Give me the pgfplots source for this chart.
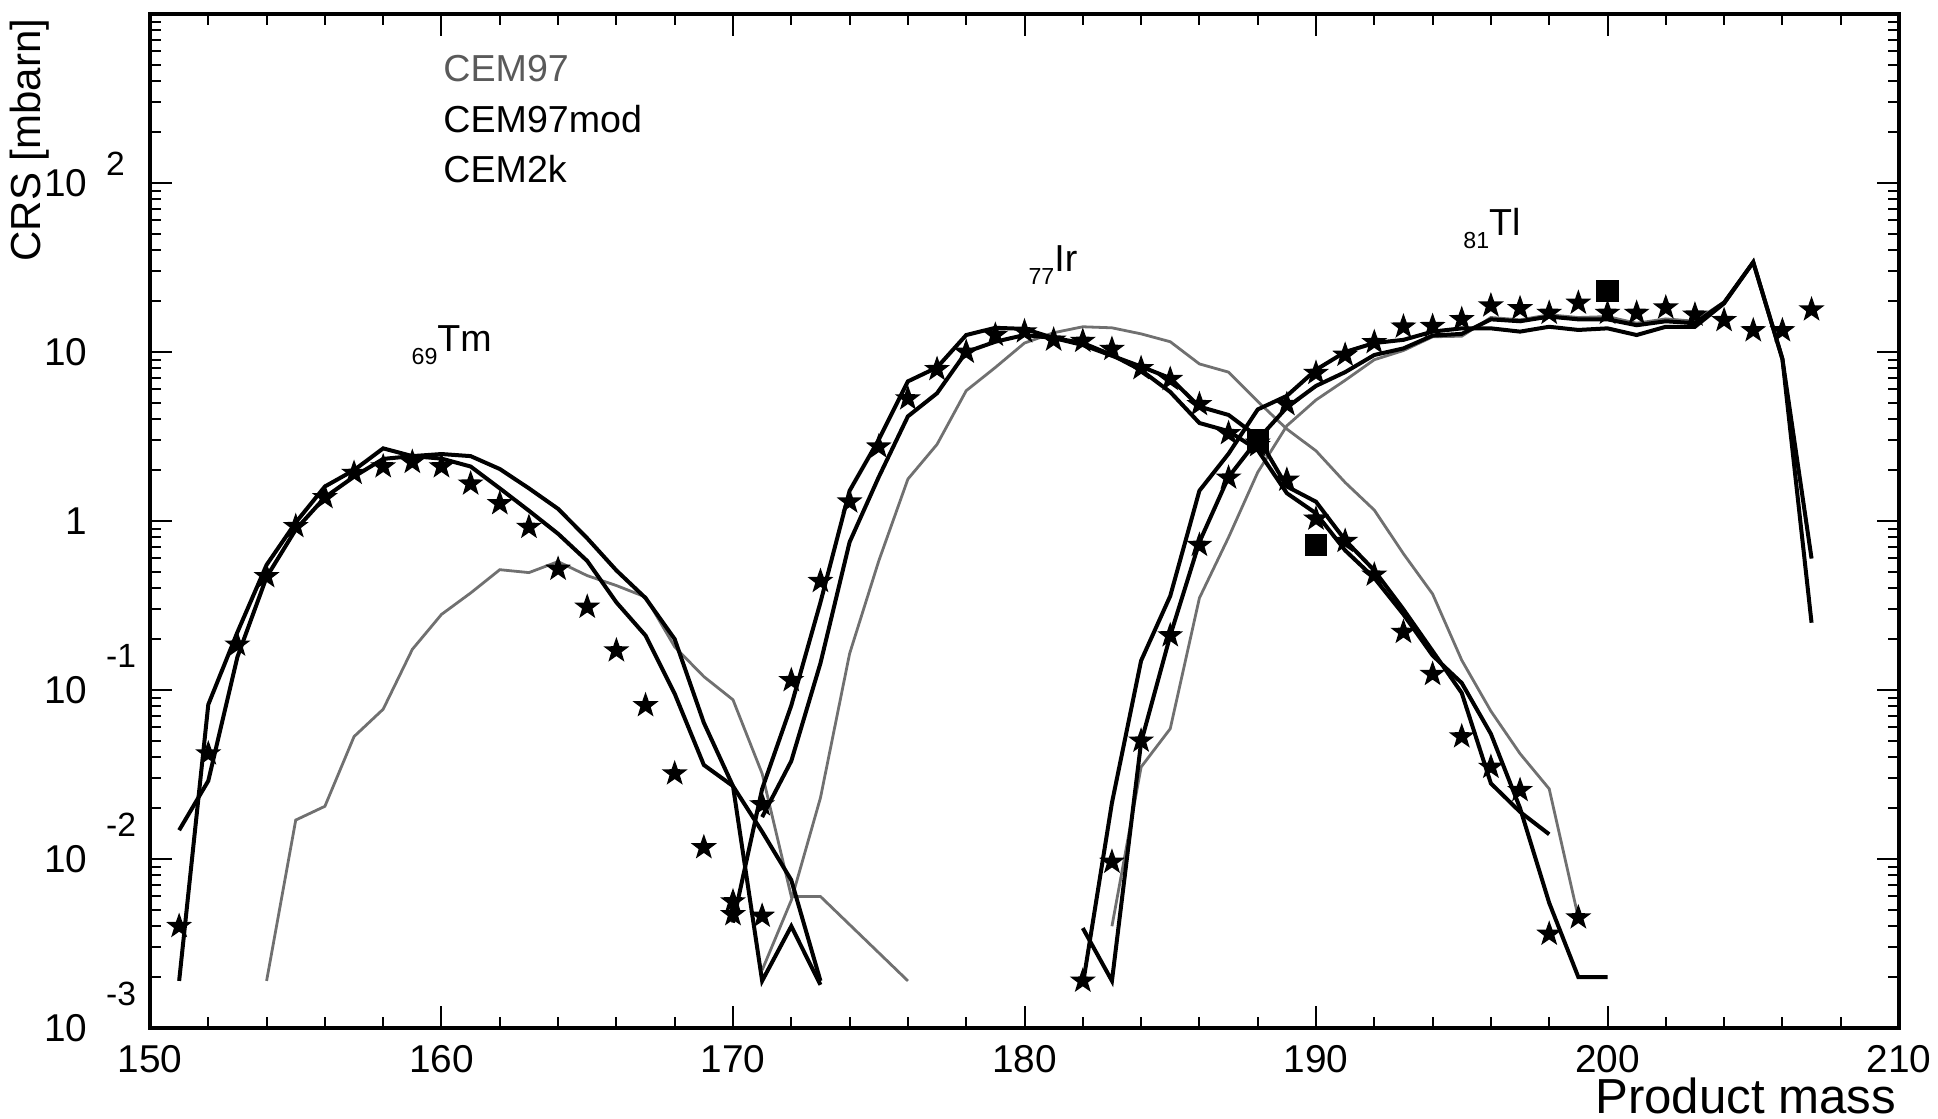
\documentclass[border=0pt]{standalone}
\usepackage{fontspec}
\setmainfont{Liberation Sans}
\usepackage{pgfplots}
\pgfplotsset{compat=1.18}
\definecolor{cemgray}{HTML}{707070}
\definecolor{txtgray}{HTML}{5A5A5A}
\newcommand{\tenexp}[1]{10\rlap{\hspace{4.75pt}\smash{\raisebox{9pt}{\fontsize{8.4}{9}\selectfont #1}}}}
\newcommand{\tenexpp}[1]{\raisebox{-1.4pt}{10\rlap{\hspace{4.75pt}\smash{\raisebox{5.2pt}{\fontsize{8.4}{9}\selectfont #1}}}}}
\newcommand{\sub}[1]{\raisebox{-3.2pt}{\fontsize{5.8}{6}\selectfont #1}}
\pgfdeclareplotmark{fstar}{%
  \pgfpathmoveto{\pgfpointpolar{90}{\pgfplotmarksize}}%
  \pgfpathlineto{\pgfpointpolar{126}{0.4\pgfplotmarksize}}%
  \pgfpathlineto{\pgfpointpolar{162}{\pgfplotmarksize}}%
  \pgfpathlineto{\pgfpointpolar{198}{0.4\pgfplotmarksize}}%
  \pgfpathlineto{\pgfpointpolar{234}{\pgfplotmarksize}}%
  \pgfpathlineto{\pgfpointpolar{270}{0.4\pgfplotmarksize}}%
  \pgfpathlineto{\pgfpointpolar{306}{\pgfplotmarksize}}%
  \pgfpathlineto{\pgfpointpolar{342}{0.4\pgfplotmarksize}}%
  \pgfpathlineto{\pgfpointpolar{18}{\pgfplotmarksize}}%
  \pgfpathlineto{\pgfpointpolar{54}{0.4\pgfplotmarksize}}%
  \pgfpathclose
  \pgfusepathqfillstroke
}
\begin{document}
\begin{tikzpicture}
\path[use as bounding box] (-37.5pt,-22.75pt) rectangle (447pt,257pt);
\begin{axis}[
  at={(0,0)}, anchor=south west,
  width=437.25pt, height=253.5pt, scale only axis,
  xmin=150, xmax=210, ymode=log, ymin=1e-3, ymax=1e3,
  xtick={150,160,170,180,190,200,210},
  xticklabels={150,160,170,180,190,200,210},
  minor x tick num=4,
  ytick={1e-3,1e-2,1e-1,1,10,100},
  yticklabels={\tenexp{-3},\tenexp{-2},\tenexp{-1},1,10,\tenexpp{2}},
  minor ytick={2e-3,3e-3,4e-3,5e-3,6e-3,7e-3,8e-3,9e-3,
    0.02,0.03,0.04,0.05,0.06,0.07,0.08,0.09,
    0.2,0.3,0.4,0.5,0.6,0.7,0.8,0.9,
    2,3,4,5,6,7,8,9,20,30,40,50,60,70,80,90,
    200,300,400,500,600,700,800,900},
  tick align=inside,
  xtick pos=both, ytick pos=both,
  xticklabel pos=lower, yticklabel pos=left,
  major tick length=5.5pt, minor tick length=2.75pt,
  every tick/.style={black, line width=0.5pt},
  axis line style={line width=0.8pt},
  tick label style={font=\fontsize{9.7}{11}\selectfont},
  xticklabel style={inner sep=0pt, yshift=-4.25pt},
  yticklabel style={inner sep=0pt, xshift=-15.5pt},
  clip=false,
]
% ---------------- CEM97 (gray) ----------------
\addplot[cemgray, line width=0.7pt] coordinates {
(154,0.0019)(155,0.017)(156,0.0205)(157,0.053)(158,0.077)(159,0.174)(160,0.28)
(161,0.375)(162,0.515)(163,0.495)(164,0.575)(165,0.475)(166,0.415)(167,0.355)
(168,0.18)(169,0.12)(170,0.0875)(171,0.032)(172,0.006)(173,0.006)(176,0.0019)};
\addplot[cemgray, line width=0.7pt] coordinates {
(171,0.0022)(172,0.0057)(173,0.023)(174,0.164)(175,0.58)(176,1.77)(177,2.84)
(178,5.9)(179,8.1)(180,11.3)(181,13.0)(182,14.1)(183,13.9)(184,12.8)(185,11.5)
(186,8.5)(187,7.6)(188,5.1)(189,3.5)(190,2.6)(191,1.69)(192,1.16)(193,0.64)
(194,0.37)(195,0.15)(196,0.075)(197,0.042)(198,0.026)(199,0.0045)};
\addplot[cemgray, line width=0.7pt] coordinates {
(183,0.004)(184,0.035)(185,0.059)(186,0.35)(187,0.8)(188,1.94)(189,3.66)
(190,5.2)(191,6.8)(192,9.0)(193,10.2)(194,12.3)(195,12.4)(196,16.0)(197,15.5)
(198,16.6)(199,16.0)(200,16.2)(201,14.8)(202,15.7)(203,15.2)(204,19.8)
(205,34)(206,9.1)(207,0.6)};
% ---------------- CEM97mod / CEM2k (black) ----------------
\addplot[black, line width=1pt] coordinates {
(151,0.0019)(152,0.082)(153,0.22)(154,0.55)(155,0.98)(156,1.6)(157,2.0)
(158,2.69)(159,2.42)(160,2.34)(161,2.1)(162,1.56)(163,1.15)(164,0.84)
(165,0.58)(166,0.33)(167,0.21)(168,0.095)(169,0.036)(170,0.027)(171,0.0145)
(172,0.0075)(173,0.0019)};
\addplot[black, line width=1pt] coordinates {
(151,0.0148)(152,0.029)(153,0.157)(154,0.466)(155,0.89)(156,1.38)(157,1.83)
(158,2.33)(159,2.42)(160,2.49)(161,2.42)(162,2.03)(163,1.56)(164,1.18)
(165,0.79)(166,0.51)(167,0.35)(168,0.20)(169,0.064)(170,0.027)(171,0.0019)
(172,0.004)(173,0.0018)};
\addplot[black, line width=1pt] coordinates {
(170,0.0042)(171,0.026)(172,0.081)(173,0.33)(174,1.51)(175,3.03)(176,6.7)
(177,8.1)(178,12.6)(179,13.9)(180,13.7)(181,12.1)(182,11.0)(183,9.5)(184,8.2)
(185,7.0)(186,4.75)(187,4.24)(188,3.15)(189,1.6)(190,1.3)(191,0.77)(192,0.51)
(193,0.30)(194,0.17)(195,0.096)(196,0.028)(197,0.019)(198,0.014)};
\addplot[black, line width=1pt] coordinates {
(171,0.0177)(172,0.038)(173,0.144)(174,0.75)(175,1.82)(176,4.16)(177,5.7)
(178,10.0)(179,11.5)(180,12.6)(181,12.1)(182,11.3)(183,9.6)(184,7.8)(185,5.8)
(186,3.8)(187,3.4)(188,2.63)(189,1.46)(190,1.11)(191,0.67)(192,0.46)(193,0.28)
(194,0.16)(195,0.11)(196,0.055)(197,0.02)(198,0.0055)(199,0.002)(200,0.002)};
\addplot[black, line width=1pt] coordinates {
(182,0.0039)(183,0.0019)(184,0.049)(185,0.21)(186,0.75)(187,1.82)(188,3.03)
(189,4.7)(190,6.3)(191,7.6)(192,9.6)(193,10.5)(194,12.5)(195,12.8)(196,15.6)
(197,15.2)(198,16.2)(199,15.6)(200,15.6)(201,14.4)(202,15.2)(203,14.8)
(204,19.6)(205,34)(206,9.1)(207,0.6)};
\addplot[black, line width=1pt] coordinates {
(182,0.0018)(183,0.0215)(184,0.149)(185,0.36)(186,1.51)(187,2.5)(188,4.57)
(189,5.5)(190,7.85)(191,10.0)(192,11.3)(193,11.8)(194,13.2)(195,13.8)
(196,13.8)(197,13.2)(198,14.1)(199,13.5)(200,13.8)(201,12.6)(202,14.1)
(203,14.1)(204,19.4)(205,34)(206,9.1)(207,0.25)};
% ---------------- experimental data (stars) ----------------
\addplot[only marks, mark=fstar, mark size=2.8pt, black] coordinates {
(151,0.0040)(152,0.042)(153,0.185)(154,0.47)(155,0.93)(156,1.38)(157,1.92)
(158,2.1)(159,2.23)(160,2.1)(161,1.66)(162,1.27)(163,0.92)(164,0.52)(165,0.31)
(166,0.171)(167,0.081)(168,0.032)(169,0.0117)(170,0.0056)(171,0.0046)};
\addplot[only marks, mark=fstar, mark size=2.8pt, black] coordinates {
(170,0.0047)(171,0.021)(172,0.114)(173,0.44)(174,1.3)(175,2.75)(176,5.3)
(177,7.9)(178,10.0)(179,12.6)(180,13.2)(181,11.8)(182,11.6)(183,10.4)(184,8.0)
(185,6.9)(186,4.9)(187,3.3)(188,2.8)(189,1.75)(190,1.03)(191,0.76)(192,0.48)
(193,0.22)(194,0.124)(195,0.053)(196,0.035)(197,0.0255)(198,0.0036)(199,0.0045)};
\addplot[only marks, mark=fstar, mark size=2.8pt, black] coordinates {
(182,0.0019)(183,0.0096)(184,0.050)(185,0.21)(186,0.72)(187,1.8)(188,2.9)
(189,4.9)(190,7.5)(191,9.6)(192,11.4)(193,14.1)(194,14.2)(195,15.6)(196,18.8)
(197,18.1)(198,17.0)(199,19.5)(200,17.0)(201,17.0)(202,18.3)(203,16.6)
(204,15.4)(205,13.4)(206,13.4)(207,17.8)};
% ---------------- squares ----------------
\addplot[only marks, mark=square*, mark size=2.6pt, black] coordinates {
(188,3.0)(190,0.72)(200,23)};
% ---------------- texts ----------------
\node[anchor=base west, text=txtgray, font=\fontsize{9.4}{11}\selectfont, inner sep=0pt] at (axis cs:160.04,396) {CEM97};
\node[anchor=base west, font=\fontsize{9.4}{11}\selectfont, inner sep=0pt] at (axis cs:160.04,198) {CEM97mod};
\node[anchor=base west, font=\fontsize{9.4}{11}\selectfont, inner sep=0pt] at (axis cs:160.04,100) {CEM2k};
\node[anchor=base west, font=\fontsize{9.4}{11}\selectfont, inner sep=0pt] at (axis cs:158.95,10.0) {\sub{69}Tm};
\node[anchor=base west, font=\fontsize{9.4}{11}\selectfont, inner sep=0pt] at (axis cs:180.11,30) {\sub{77}Ir};
\node[anchor=base west, font=\fontsize{9.4}{11}\selectfont, inner sep=0pt] at (axis cs:195.03,49) {\sub{81}Tl};
\node[anchor=base east, font=\fontsize{12.3}{14}\selectfont, inner sep=0pt] at ([xshift=-0.5pt,yshift=-21.4pt]rel axis cs:1,0) {Product mass};
\node[anchor=base east, rotate=90, font=\fontsize{10.5}{12}\selectfont, inner sep=0pt] at ([xshift=-27.25pt,yshift=-1pt]rel axis cs:0,1) {CRS [mbarn]};
\end{axis}
\end{tikzpicture}
\end{document}
